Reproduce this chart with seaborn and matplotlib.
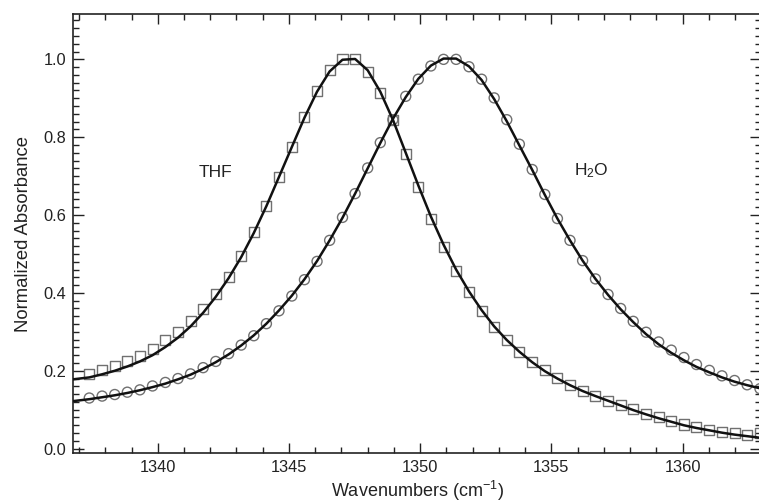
import matplotlib
matplotlib.use("Agg")
import matplotlib.pyplot as plt
from matplotlib.ticker import MultipleLocator
import seaborn as sns
import pandas as pd

# ---- data ----
wavenumber = [1337.39, 1337.88, 1338.36, 1338.84, 1339.32, 1339.80, 1340.29, 1340.77, 1341.25, 1341.73,
              1342.21, 1342.70, 1343.18, 1343.66, 1344.14, 1344.62, 1345.11, 1345.59, 1346.07, 1346.55,
              1347.04, 1347.52, 1348.00, 1348.48, 1348.96, 1349.45, 1349.93, 1350.41, 1350.89, 1351.37,
              1351.86, 1352.34, 1352.82, 1353.30, 1353.78, 1354.27, 1354.75, 1355.23, 1355.71, 1356.19,
              1356.68, 1357.16, 1357.64, 1358.12, 1358.61, 1359.09, 1359.57, 1360.05, 1360.53, 1361.02,
              1361.50, 1361.98, 1362.46, 1362.95]

thf_data = [0.191, 0.203, 0.213, 0.226, 0.239, 0.256, 0.278, 0.300, 0.327, 0.359,
            0.397, 0.442, 0.495, 0.556, 0.624, 0.697, 0.775, 0.851, 0.919, 0.972,
            1.000, 1.000, 0.968, 0.914, 0.844, 0.756, 0.672, 0.591, 0.519, 0.457,
            0.402, 0.354, 0.313, 0.278, 0.248, 0.223, 0.201, 0.181, 0.164, 0.149,
            0.135, 0.122, 0.112, 0.101, 0.090, 0.080, 0.070, 0.062, 0.055, 0.048,
            0.043, 0.039, 0.036, 0.039]

h2o_data = [0.130, 0.135, 0.139, 0.145, 0.151, 0.161, 0.170, 0.180, 0.192, 0.208,
            0.224, 0.244, 0.266, 0.290, 0.321, 0.354, 0.392, 0.434, 0.481, 0.535,
            0.594, 0.655, 0.721, 0.786, 0.845, 0.905, 0.949, 0.983, 1.000, 1.000,
            0.981, 0.949, 0.901, 0.845, 0.782, 0.717, 0.653, 0.591, 0.535, 0.483,
            0.436, 0.396, 0.360, 0.327, 0.299, 0.274, 0.253, 0.234, 0.216, 0.201,
            0.187, 0.175, 0.164, 0.154]

fit_wavenumber = [1336.77] + wavenumber

thf_fit = [0.178,
           0.183, 0.191, 0.200, 0.211, 0.224, 0.240, 0.261, 0.285, 0.314, 0.349,
           0.390, 0.438, 0.492, 0.554, 0.623, 0.698, 0.775, 0.850, 0.917, 0.969,
           0.999, 1.001, 0.972, 0.917, 0.845, 0.760, 0.676, 0.596, 0.524, 0.460,
           0.404, 0.356, 0.314, 0.279, 0.249, 0.222, 0.199, 0.180, 0.163, 0.148,
           0.135, 0.123, 0.111, 0.099, 0.088, 0.078, 0.069, 0.060, 0.053, 0.047,
           0.041, 0.036, 0.032, 0.028]

h2o_fit = [0.122,
           0.127, 0.132, 0.137, 0.143, 0.150, 0.158, 0.167, 0.178, 0.190, 0.205,
           0.222, 0.242, 0.265, 0.291, 0.321, 0.355, 0.393, 0.435, 0.482, 0.535,
           0.593, 0.655, 0.720, 0.785, 0.847, 0.903, 0.950, 0.984, 1.002, 1.002,
           0.982, 0.947, 0.898, 0.841, 0.779, 0.716, 0.652, 0.591, 0.535, 0.483,
           0.436, 0.395, 0.358, 0.325, 0.294, 0.268, 0.246, 0.227, 0.210, 0.196,
           0.183, 0.172, 0.163, 0.155]

x_ticks = [1340, 1345, 1350, 1355, 1360]
y_ticks = [0.0, 0.2, 0.4, 0.6, 0.8, 1.0]

df = pd.DataFrame({"wn": wavenumber, "thf": thf_data, "h2o": h2o_data})
fit = pd.DataFrame({"wn": fit_wavenumber, "thf": thf_fit, "h2o": h2o_fit})

# ---- style ----
sns.set_style("ticks")
plt.rcParams["font.family"] = ["Liberation Sans", "DejaVu Sans"]
plt.rcParams["mathtext.fontset"] = "custom"
plt.rcParams["mathtext.rm"] = "Liberation Sans"
plt.rcParams["mathtext.it"] = "Liberation Sans:italic"
plt.rcParams["mathtext.bf"] = "Liberation Sans:bold"

fig = plt.figure(figsize=(7.59, 5.04), dpi=100)
ax = fig.add_axes([73 / 759, 50.7 / 504, 688.3 / 759, 439.3 / 504])

mk_col = "#707070"
sns.scatterplot(data=df, x="wn", y="thf", marker="s", s=52, facecolor="none",
                edgecolor=mk_col, linewidth=1.0, ax=ax, zorder=2)
sns.scatterplot(data=df, x="wn", y="h2o", marker="o", s=52, facecolor="none",
                edgecolor=mk_col, linewidth=1.0, ax=ax, zorder=2)
sns.lineplot(data=fit, x="wn", y="thf", color="#111111", linewidth=1.8, ax=ax, zorder=3)
sns.lineplot(data=fit, x="wn", y="h2o", color="#111111", linewidth=1.8, ax=ax, zorder=3)

ax.set_xlim(1336.77, 1363.0)
ax.set_ylim(-0.012, 1.1165)
ax.set_xticks(x_ticks)
ax.set_yticks(y_ticks)
ax.set_yticklabels([f"{v:.1f}" for v in y_ticks])
ax.xaxis.set_minor_locator(MultipleLocator(1))
ax.yaxis.set_minor_locator(MultipleLocator(0.02))

for s in ax.spines.values():
    s.set_linewidth(1.2)
    s.set_color("#222222")
ax.tick_params(which="both", direction="in", top=True, right=True, width=1.0,
               color="#222222", labelsize=11.8, labelcolor="#222222")
ax.tick_params(axis="x", which="major", length=7, pad=5)
ax.tick_params(axis="x", which="minor", length=4)
ax.tick_params(axis="y", which="major", length=8, pad=5)
ax.tick_params(axis="y", which="minor", length=4.5)

ax.set_xlabel("Wavenumbers (cm$^{-1}$)", fontsize=13, color="#222222", labelpad=2.5)
ax.set_ylabel("Normalized Absorbance", fontsize=13.3, color="#222222", labelpad=8)

ax.text(1341.54, 0.697, "THF", fontsize=12.5, ha="left", va="baseline", color="#222222")
ax.text(1355.87, 0.703, "H$_2$O", fontsize=12.5, ha="left", va="baseline", color="#222222")

fig.savefig("out.png", dpi=100)
